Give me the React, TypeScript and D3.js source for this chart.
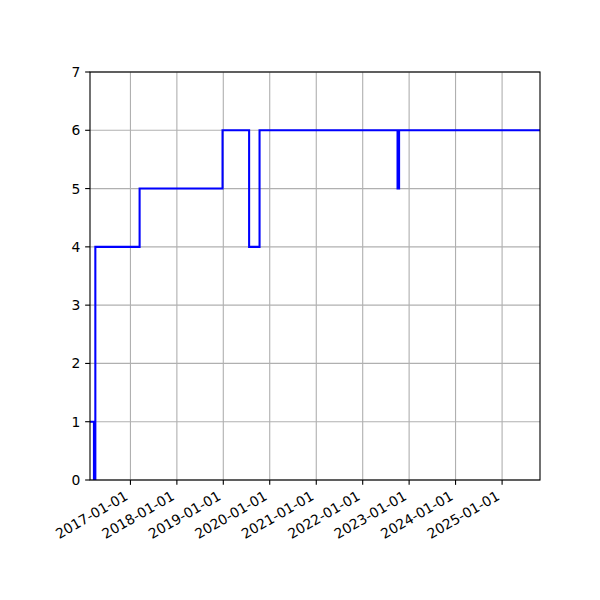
import React from "react";
import * as d3 from "d3";

const stepDates = [
  "2016-02-18", "2016-03-20", "2016-03-31", "2017-03-14", "2018-12-26",
  "2019-07-23", "2019-10-13", "2022-10-02", "2022-10-14", "2025-10-26",
];
const stepValues = [1, 0, 4, 5, 6, 4, 6, 5, 6, 6];
const xTickLabels = [
  "2017-01-01", "2018-01-01", "2019-01-01", "2020-01-01", "2021-01-01",
  "2022-01-01", "2023-01-01", "2024-01-01", "2025-01-01",
];
const yTicks = [0, 1, 2, 3, 4, 5, 6, 7];
const xDomain = ["2016-02-18", "2025-10-26"];
const yDomain = [0, 7];

const parse = (s: string) => {
  const [y, m, d] = s.split("-").map(Number);
  return new Date(Date.UTC(y, m - 1, d));
};

export default function App() {
  const W = 600, H = 600;
  const L = 90, R = 540, T = 72, B = 480;
  const fs = 13.89;
  const x = d3.scaleUtc().domain(xDomain.map(parse)).range([L, R]);
  const y = d3.scaleLinear().domain(yDomain).range([B, T]);
  const pts = stepDates.map((d, i) => [x(parse(d)), y(stepValues[i])] as [number, number]);
  const line = d3.line().curve(d3.curveStepAfter)(pts) || "";
  const tickLen = 4.86;
  const pad = 4.86;
  const ang = 30 * Math.PI / 180;
  const asc = 0.76 * fs, desc = 0.21 * fs;
  const grid = "#b0b0b0";
  const font = "DejaVu Sans, sans-serif";
  return (
    <svg width={W} height={H} style={{ position: "absolute", left: 0, top: 0, background: "#fff" }}>
      <rect x={0} y={0} width={W} height={H} fill="#fff" />
      <defs>
        <clipPath id="clip"><rect x={L} y={T} width={R - L} height={B - T} /></clipPath>
      </defs>
      {xTickLabels.map((t) => {
        const px = x(parse(t));
        return <line key={"gx" + t} x1={px} x2={px} y1={T} y2={B} stroke={grid} strokeWidth={1.11} />;
      })}
      {yTicks.map((v) => (
        <line key={"gy" + v} x1={L} x2={R} y1={y(v)} y2={y(v)} stroke={grid} strokeWidth={1.11} />
      ))}
      <path d={line} fill="none" stroke="#0000ff" strokeWidth={2.08} clipPath="url(#clip)" strokeLinejoin="miter" strokeLinecap="square" />
      <rect x={L} y={T} width={R - L} height={B - T} fill="none" stroke="#000" strokeWidth={1.11} />
      {xTickLabels.map((t) => {
        const px = x(parse(t));
        const ax = px - desc * Math.sin(ang);
        const ay = B + tickLen + pad + asc * Math.cos(ang);
        return (
          <g key={"xt" + t}>
            <line x1={px} x2={px} y1={B} y2={B + tickLen} stroke="#000" strokeWidth={1.11} />
            <text x={ax} y={ay} fontSize={fs} fontFamily={font} textAnchor="end" transform={`rotate(-30 ${ax} ${ay})`} fill="#000">{t}</text>
          </g>
        );
      })}
      {yTicks.map((v) => (
        <g key={"yt" + v}>
          <line x1={L - tickLen} x2={L} y1={y(v)} y2={y(v)} stroke="#000" strokeWidth={1.11} />
          <text x={L - tickLen - pad} y={y(v) + 0.365 * fs} fontSize={fs} fontFamily={font} textAnchor="end" fill="#000">{v}</text>
        </g>
      ))}
    </svg>
  );
}
